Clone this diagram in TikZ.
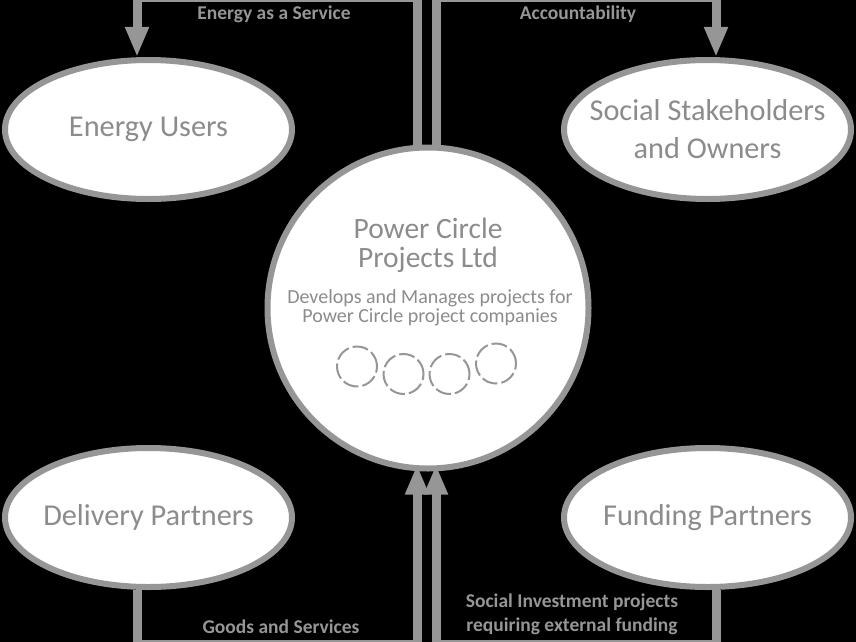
\documentclass[tikz,border=0pt]{standalone}
\usepackage{fontspec}
\setmainfont{Carlito}
\usepackage{tikz}
\usetikzlibrary{arrows.meta,shapes}
\definecolor{pcgrey}{RGB}{150,150,150}
\definecolor{pctext}{RGB}{140,140,140}
\tikzset{
    party/.style={draw=pcgrey, ellipse, line width=6pt, fill=white, minimum width=287pt, minimum height=139pt, inner sep=0pt},
    partytext/.style={text=pctext, font=\fontsize{30.3}{38}\selectfont, align=center},
    hub/.style={draw=pcgrey, circle, line width=6pt, fill=white, minimum size=321pt, inner sep=0pt},
    hubtitle/.style={text=pctext, font=\fontsize{29.5}{29}\selectfont, align=center, inner sep=0pt},
    hubnote/.style={text=pctext, font=\fontsize{20}{18.5}\selectfont, align=center, inner sep=0pt},
    ring/.style={draw=pcgrey, circle, line width=2pt, dash pattern=on 15.9pt off 4pt, minimum size=40pt, inner sep=0pt},
    flow/.style={-{Triangle[length=30pt, width=22pt]}, line width=9pt, pcgrey},
    flowtag/.style={text=pcgrey, font=\fontsize{19.5}{24}\selectfont\bfseries, align=center, inner sep=0pt}
}
\begin{document}
\begin{tikzpicture}[x=1pt, y=-1pt]
        \path[use as bounding box, fill=black] (0,0) rectangle (856,642);
        \clip (0,0) rectangle (856,642);

        \node[hub] (hub) at (428,308) {};
        \node[party, label={[partytext]center:Energy Users}] (users) at (148.5,129.5) {};
        \node[party, label={[partytext]center:{Social Stakeholders\\and Owners}}] (stake) at (707.5,129.5) {};
        \node[party, label={[partytext]center:Delivery Partners}] (delivery) at (148.5,517.5) {};
        \node[party, label={[partytext]center:Funding Partners}] (funding) at (707.5,517.5) {};

        \node[hubtitle] (title) at (428,245) {Power Circle\\Projects Ltd};
        \node[hubnote] (remit) at (430,308) {Develops and Manages projects for\\Power Circle project companies};
        \node[ring] (ring1) at (357,366.5) {};
        \node[ring] (ring2) at (403.5,374) {};
        \node[ring] (ring3) at (449.5,374) {};
        \node[ring] (ring4) at (496,363.5) {};

        \draw[flow] ([xshift=-11pt]hub.north) -- (417,-2.5) -| ([xshift=-11.5pt]users.north);
        \draw[flow] ([xshift=8pt]hub.north) -- (436,-2.5) -| ([xshift=8.5pt]stake.north);
        \draw[flow, shorten >=-7pt] ([xshift=-11.5pt]delivery.south) -- (137,644.5) -| ([xshift=-11pt]hub.south);
        \draw[flow, shorten >=-7pt] ([xshift=8.5pt]funding.south) -- (716,644.5) -| ([xshift=8pt]hub.south);

        \node[flowtag] (servicetag) at (274,14) {Energy as a Service};
        \node[flowtag] (accounttag) at (578,14) {Accountability};
        \node[flowtag] (goodstag) at (281,627) {Goods and Services};
        \node[flowtag] (fundtag) at (572,614) {Social Investment projects\\requiring external funding};
    \end{tikzpicture}
\end{document}
